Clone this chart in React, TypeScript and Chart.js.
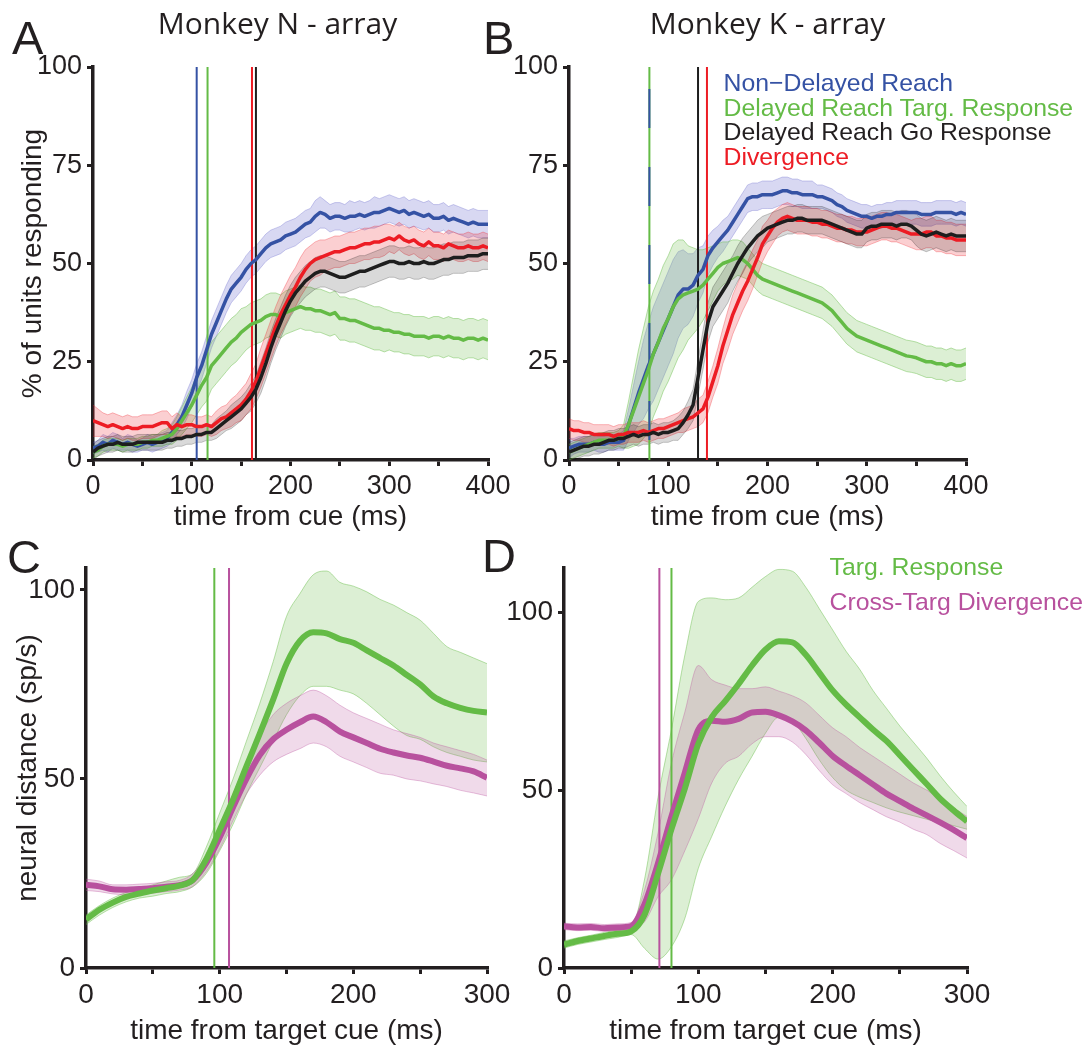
import React, { useEffect, useRef } from "react";
import { Chart, registerables } from "chart.js";

Chart.register(...registerables);

// ---------------- DATA ----------------
// time axis (ms) for panels A and B (5 ms steps)
const TIME_AB = [
  0, 5, 10, 15, 20, 25, 30, 35, 40, 45,
  50, 55, 60, 65, 70, 75, 80, 85, 90, 95,
  100, 105, 110, 115, 120, 125, 130, 135, 140, 145,
  150, 155, 160, 165, 170, 175, 180, 185, 190, 195,
  200, 205, 210, 215, 220, 225, 230, 235, 240, 245,
  250, 255, 260, 265, 270, 275, 280, 285, 290, 295,
  300, 305, 310, 315, 320, 325, 330, 335, 340, 345,
  350, 355, 360, 365, 370, 375, 380, 385, 390, 395,
  400,
];
// time axis (ms) for panels C and D (10 ms steps)
const TIME_CD = [
  0, 10, 20, 30, 40, 50, 60, 70, 80, 90,
  100, 110, 120, 130, 140, 150, 160, 170, 180, 190,
  200, 210, 220, 230, 240, 250, 260, 270, 280, 290,
  300,
];

// Panel A - Monkey N (% of units responding, mean and s.e.m.)
const A_BLUE = [
  3, 3.5, 4.5, 4, 5, 4.5, 4, 4.5, 4, 3.5,
  4, 4.5, 4, 4.5, 5, 5.5, 7, 9, 11, 14,
  17, 21, 24, 28, 32, 35, 38, 41, 43.5, 45,
  46.5, 48.5, 50, 51, 52.5, 54, 55, 55.5, 56, 57,
  57.5, 58, 59, 60, 60.5, 62, 63, 62.5, 61.5, 62,
  62, 61.5, 62, 62, 62.5, 62, 62.5, 63, 63, 63.5,
  64, 63.5, 63, 63.5, 62.5, 63, 62.5, 62, 62.5, 61.5,
  61.5, 62, 61, 61.5, 61, 60.5, 60, 60.5, 60, 60,
  60,
];
const A_BLUE_SEM = [
  1.5, 1.5, 2, 2, 2, 2, 1.5, 2, 2, 1.5,
  1.5, 2, 2, 2, 2, 2, 2.5, 2.5, 3, 3.5,
  3.5, 3.5, 3.5, 3.5, 3.5, 3.5, 3.5, 3.5, 3.5, 3.5,
  3.5, 3.5, 3.5, 3.5, 3.5, 3.5, 3.5, 3.5, 3.5, 3.5,
  3.5, 3.5, 3.5, 3.5, 3.5, 4, 4, 3.5, 3.5, 3.5,
  3.5, 3.5, 4, 3.5, 3.5, 3.5, 3.5, 4, 3.5, 3.5,
  3.5, 3.5, 3.5, 3.5, 3.5, 3.5, 3.5, 3.5, 3.5, 3.5,
  3.5, 3.5, 3.5, 3.5, 3.5, 3.5, 3.5, 3.5, 3.5, 3.5,
  3.5,
];
const A_GREEN = [
  2, 2.5, 3.5, 4, 4, 4, 3.5, 4, 4, 4,
  4.5, 4.5, 5, 5, 5.5, 6, 6.5, 8, 10, 12,
  14, 16.5, 19, 21, 24, 25.5, 27, 28.5, 30, 31,
  32.5, 33.5, 34.5, 35, 35.5, 36.5, 37, 37, 36.5, 37.5,
  38, 38.5, 39, 38.5, 38.5, 38, 38, 37.5, 37, 37.5,
  36, 36, 35.5, 35.5, 35, 34.5, 34, 33.5, 33.5, 33,
  33, 32.5, 32.5, 32, 32, 31.5, 31.5, 31.5, 31, 31.5,
  31.5, 31, 31.5, 31, 31, 30.5, 31, 31, 30.5, 31,
  30.5,
];
const A_GREEN_SEM = [
  1.5, 1.5, 1.5, 1.5, 1.5, 1.5, 1.5, 1.5, 1.5, 1.5,
  1.5, 1.5, 1.5, 1.5, 2, 2, 2.5, 3, 3.5, 4,
  4.5, 5, 5.5, 6, 6, 6, 6, 6, 6, 6,
  6, 5.5, 5.5, 5.5, 5.5, 5.5, 5.5, 5.5, 5.5, 5.5,
  5.5, 5.5, 5.5, 5.5, 5.5, 5.5, 5.5, 5.5, 5.5, 5.5,
  5.5, 5.5, 5.5, 5.5, 5.5, 5.5, 5.5, 5.5, 5.5, 5.5,
  5, 5, 5, 5, 5, 5, 5, 5, 5, 5,
  5, 5, 5, 5, 5, 5, 5, 5, 5, 5,
  5,
];
const A_RED = [
  10, 9.5, 9, 8.5, 9, 8.5, 8, 8.5, 8, 8,
  8.5, 8.5, 8.5, 9, 9.5, 9.5, 8, 9, 8.5, 9,
  9, 8.5, 8.5, 9, 8.5, 9.5, 10.5, 11, 12, 13,
  14, 15.5, 17.5, 20, 23.5, 27, 30.5, 34, 37, 39.5,
  42, 44, 46.5, 48.5, 50, 51, 51.5, 52, 52.5, 53,
  53, 53.5, 54, 54, 54.5, 55, 55, 55.5, 55.5, 56,
  56.5, 56, 57, 56, 55.5, 56, 55, 54.5, 55.5, 54.5,
  54.5, 54, 55, 54.5, 54, 54, 54.5, 54, 54, 54.5,
  54,
];
const A_RED_SEM = [
  4, 3.5, 3, 3, 3, 3, 3, 3, 3, 3,
  3, 3, 3, 3, 3, 3, 3, 3, 2.5, 2.5,
  2.5, 2.5, 2.5, 2.5, 2.5, 3, 3, 3, 3.5, 3.5,
  4, 4, 4.5, 4.5, 5, 5, 5, 5, 5, 5,
  5, 5, 5, 5, 4.5, 4.5, 4.5, 4, 4, 4,
  4, 4, 4, 4, 4, 4, 4, 4, 4, 4,
  3.5, 3.5, 3.5, 3.5, 3.5, 3.5, 3.5, 3.5, 3.5, 3.5,
  3.5, 3.5, 3.5, 3.5, 3.5, 3.5, 3.5, 3.5, 3.5, 3.5,
  3.5,
];
const A_BLACK = [
  2, 3, 3.5, 4, 4, 4.5, 4, 4, 4, 4.5,
  4.5, 4.5, 4.5, 4.5, 4.5, 5, 5, 5.5, 5.5, 6,
  6, 6.5, 6.5, 7, 7, 8, 9, 10, 11, 12,
  13, 14.5, 16, 18, 21, 24.5, 28.5, 32, 35, 38,
  40.5, 42.5, 44, 45.5, 46.5, 47.5, 48, 48, 47.5, 47,
  46.5, 46.5, 47, 47.5, 48, 48, 48.5, 49, 49.5, 50,
  50.5, 50.5, 50, 50, 50.5, 50, 50, 50.5, 50, 50,
  50.5, 51, 51, 51.5, 51.5, 51.5, 52, 52, 52, 52.5,
  52.5,
];
const A_BLACK_SEM = [
  2, 2, 2, 2, 2, 2, 2, 2, 2, 2,
  2, 2, 2, 2, 2, 2, 2, 2, 2, 2,
  2, 2, 2, 2, 2, 2.5, 2.5, 2.5, 3, 3,
  3, 3, 3.5, 3.5, 4, 4, 4, 4, 4, 4,
  4, 4, 4, 4, 4, 4, 4, 4, 4, 4,
  4, 4, 4, 4, 4, 4, 4, 4, 4, 4,
  4, 4, 4, 4, 4, 4, 4, 4, 4, 4,
  4, 4, 4, 4, 4, 4, 4, 4, 4, 4,
  4,
];

// Panel B - Monkey K
const B_BLUE = [
  3, 3.5, 4, 4, 4, 4.5, 4, 4, 4.5, 4.5,
  4.5, 5, 9, 13, 17, 20.5, 24, 27, 30, 33,
  36, 39, 42, 43.5, 43.5, 44.5, 47, 48.5, 52, 54,
  55.5, 57, 58.5, 60.5, 62.5, 64.5, 66.5, 67, 67, 67.5,
  67.5, 67.5, 68, 68.5, 68.5, 68, 68, 67.5, 67.5, 67.5,
  67, 67, 66.5, 66, 65, 64.5, 63.5, 63, 62.5, 62,
  62, 61.5, 62, 62, 62.5, 62.5, 63, 63, 63, 63,
  63, 62.5, 62.5, 62.5, 63, 63, 63, 63, 62.5, 63,
  62.5,
];
const B_BLUE_SEM = [
  2.5, 2, 2, 2, 2, 2, 2, 2, 2, 2,
  2, 2.5, 4, 6, 8, 10, 11, 12, 12, 12,
  12, 12, 11, 10, 9, 8, 7, 6, 5, 4.5,
  4, 4, 3.5, 3.5, 3.5, 3.5, 3.5, 3.5, 3.5, 3.5,
  3.5, 3.5, 3.5, 3.5, 3.5, 3.5, 3.5, 3.5, 3.5, 3.5,
  3, 3, 3, 3, 3, 3, 3, 3, 3, 3,
  3, 3, 3, 3, 3, 3, 3, 3, 3, 3,
  3, 3, 3, 3, 3, 3, 3, 3, 3, 3,
  3,
];
const B_GREEN = [
  2, 2.5, 3, 3.5, 4, 4.5, 5, 5, 5, 5,
  5.5, 6, 9, 12.5, 16, 19.5, 23, 27, 30, 33.5,
  36, 39, 41, 42, 42.5, 43, 43.5, 44.5, 46, 47.5,
  49, 50, 50.5, 51, 51.5, 51, 50, 48.5, 47, 46,
  45.5, 45, 44.5, 44, 43.5, 43, 42.5, 42, 41.5, 41,
  40.5, 40, 39, 38, 36.5, 35, 33.5, 32.5, 31.5, 31,
  30.5, 30, 29.5, 29, 28.5, 28, 27.5, 27, 26.5, 26.3,
  26, 25.5, 25, 25, 24.5, 24.5, 24, 24.5, 24, 24,
  24.5,
];
const B_GREEN_SEM = [
  2, 2, 2, 2, 2, 2, 2, 2, 2, 2,
  2, 3, 6, 9, 12, 14, 16, 16, 16, 16,
  16, 16, 15, 14, 12, 11, 10, 9, 8, 7,
  6, 5.5, 5, 5, 4.5, 4.5, 4, 4, 4, 4,
  4, 4, 4, 4, 4, 4, 4, 4, 4, 4,
  4, 4, 4, 4, 4, 4, 4, 4, 4, 4,
  4, 4, 4, 4, 4, 4, 4, 4, 4, 4,
  4, 4, 4, 4, 4, 4, 4, 4, 4, 4,
  4,
];
const B_BLACK = [
  2, 2.5, 3, 3.5, 3.5, 4, 4, 4.5, 5, 5,
  5.5, 5.5, 6, 6.5, 6, 6.5, 6.5, 7, 6.5, 7,
  7, 7.5, 8, 9.5, 11.5, 14, 21, 28, 35, 39,
  41, 43, 45, 47.5, 50, 52, 54, 55.5, 57, 58,
  59, 59.5, 60, 60.5, 61, 61, 61.5, 61.5, 61, 61,
  61, 61, 60.5, 60, 59.5, 59, 58.5, 58, 57.5, 57.5,
  59, 59.5, 59.5, 60, 60, 60, 59.5, 60, 60, 59.5,
  58.5, 57.5, 57, 57.5, 58, 57.5, 57, 57.5, 57, 57,
  57,
];
const B_BLACK_SEM = [
  2.5, 2.5, 2.5, 2.5, 2.5, 2.5, 2.5, 2.5, 2.5, 2.5,
  2.5, 2.5, 2.5, 2.5, 2.5, 2.5, 2.5, 2.5, 2.5, 2.5,
  2.5, 2.5, 3, 3, 3.5, 4, 4.5, 5, 5, 5,
  5, 5, 5, 4.5, 4.5, 4.5, 4, 4, 4, 4,
  3.5, 3.5, 3.5, 3.5, 3.5, 3.5, 3.5, 3.5, 3.5, 3.5,
  3.5, 3.5, 3.5, 3.5, 3.5, 3.5, 3.5, 3.5, 3.5, 3.5,
  3.5, 3.5, 3.5, 3.5, 3.5, 3.5, 3.5, 3.5, 3.5, 3.5,
  4, 4, 4, 4, 4, 4, 4, 4, 4, 4,
  4,
];
const B_RED = [
  8, 7.5, 7.5, 7, 7, 6.5, 6.5, 6.5, 6.5, 6,
  6.5, 6.5, 7, 7, 7, 7.5, 7, 7.5, 8, 8,
  8.5, 9, 9.5, 10, 10.5, 11, 12, 13, 16, 20,
  24, 29, 33, 37, 40, 43, 45.5, 48.5, 51.5, 55,
  57, 59, 60.5, 61.5, 62, 61.5, 61, 61, 61, 60.5,
  60.5, 60, 60, 59.5, 59, 59, 58.5, 58.5, 58, 58,
  58, 58.5, 59, 59.5, 59.5, 59, 59, 58.5, 58, 57.5,
  57.5, 57.5, 58, 58, 57, 57, 56.5, 56.5, 56, 56,
  56,
];
const B_RED_SEM = [
  2.5, 2.5, 2.5, 2.5, 2.5, 2.5, 2.5, 2.5, 2.5, 2.5,
  2.5, 2.5, 2.5, 2.5, 2.5, 2.5, 2.5, 2.5, 2.5, 2.5,
  2.5, 2.5, 2.5, 3, 3, 3, 3.5, 3.5, 4, 4,
  4.5, 4.5, 5, 5, 5, 5, 5, 5, 4.5, 4.5,
  4, 4, 3.5, 3.5, 3.5, 3.5, 3.5, 3.5, 3.5, 3.5,
  3.5, 3.5, 3.5, 3.5, 3.5, 3.5, 3.5, 3.5, 3.5, 3.5,
  3.5, 3.5, 3.5, 3.5, 3.5, 3.5, 3.5, 3.5, 3.5, 3.5,
  4, 4, 4, 4, 4, 4, 4, 4, 4, 4,
  4,
];

// Panel C - neural distance (sp/s), Monkey N
const C_GREEN = [
  12.8, 15.4, 17.3, 18.8, 19.7, 20.5, 21.1, 21.8, 23.3, 28.8,
  36.5, 44.5, 53.3, 62, 71, 80.5, 86.5, 88.8, 88.5, 87,
  86, 84, 82, 80, 77.5, 75, 71.8, 70, 68.8, 68,
  67.6,
];
const C_GREEN_LO = [
  11.5, 14, 16, 17.5, 18.5, 19, 19.7, 20.2, 21.5, 25,
  31, 38, 46, 53, 60, 67, 72, 74.5, 74.5, 73.5,
  72.5, 70, 67, 64, 61.5, 60.5, 58.5, 57, 56, 55,
  54.5,
];
const C_GREEN_HI = [
  14, 16.5, 18.5, 20, 21, 22, 23, 24, 25, 32,
  41, 50, 60, 70, 81, 93, 99, 104, 105, 102,
  101, 99.5, 97.5, 96, 94, 92, 88.5, 85, 83.5, 82,
  80.5,
];
const C_MAG = [
  22, 21.6, 20.8, 20.7, 20.9, 21.1, 21.5, 21.9, 23.3, 27.8,
  34.5, 42.5, 50, 56.3, 60.5, 63, 65, 66.5, 65, 62.5,
  61, 59.5, 58, 57, 56.2, 55.6, 54.6, 53.5, 52.8, 52,
  50.3,
];
const C_MAG_LO = [
  20.5, 20.2, 19.6, 19.4, 19.6, 19.8, 20.2, 20.6, 21.6, 25.5,
  31.5, 39, 46, 51, 54.5, 56.5, 58, 59.5, 58.5, 56,
  54.5, 53, 51.5, 51, 50, 49.5, 48.7, 48, 47, 46.3,
  45.5,
];
const C_MAG_HI = [
  23.5, 23, 22, 22, 22.2, 22.4, 22.8, 23.2, 25, 30,
  37.5, 46, 54.5, 61.5, 67, 70, 72, 73.5, 72, 69.5,
  67.5, 66, 64.5, 63, 62, 61, 59.5, 58.5, 57.5, 56.5,
  55,
];

// Panel D - neural distance (sp/s), Monkey K
const D_GREEN = [
  6.6, 7.6, 8.3, 9, 9.6, 10.3, 15, 26.5, 39, 50.5,
  63, 70.5, 75, 79.8, 85, 89.5, 91.8, 91.5, 88, 83,
  78, 74, 70.5, 67, 63.8, 59.8, 55.7, 51.7, 47.6, 44.3,
  41.2,
];
const D_GREEN_LO = [
  5.6, 6.6, 7.3, 8, 8.6, 9.4, 5.5, 2.5, 6, 14,
  28, 37, 45.5, 53, 59.5, 66, 70.5, 69.5, 64.5, 58.5,
  53.5, 50, 48, 46.5, 45, 43.8, 42.8, 41.8, 40.8, 40,
  39,
];
const D_GREEN_HI = [
  7.6, 8.5, 9.2, 10, 10.6, 11.2, 25, 48, 67, 88,
  103, 104, 103.5, 104, 107, 110, 112, 111.5, 107, 101,
  95, 89, 84, 78, 73, 68, 63.5, 59, 54, 49.5,
  45.4,
];
const D_MAG = [
  11.7, 11.4, 11.5, 11.2, 11.4, 11.8, 18, 29.5, 42.6, 55,
  67, 69.5, 69.2, 70, 71.8, 72, 71, 69.3, 66.8, 63.3,
  59.6, 56.8, 54.2, 51.6, 49, 46.9, 44.8, 42.9, 40.9, 38.8,
  36.5,
];
const D_MAG_LO = [
  10.8, 10.5, 10.6, 10.3, 10.5, 10.9, 13, 20, 24.8, 33,
  42, 52, 57.5, 59.5, 63, 65, 65, 63.5, 60, 55.5,
  51.5, 49, 46.5, 44.5, 42.5, 41, 39, 37.5, 35, 33,
  30.9,
];
const D_MAG_HI = [
  12.6, 12.4, 12.5, 12.2, 12.4, 12.8, 22, 38, 57.6, 72,
  85, 81, 79.5, 78.5, 78.5, 79, 77.8, 76.5, 74.5, 71,
  67.5, 65, 62, 59.5, 57, 54.5, 52, 50, 47.5, 45,
  42.6,
];

// onset times (ms) marked by vertical lines
const A_ONSETS = [105, 116, 161, 165]; // blue, green, red, black
const B_ONSETS = [81, 81, 130, 139]; // green, blue, black, red
const C_ONSETS = [96, 107]; // green, magenta
const D_ONSETS = [71, 80]; // magenta, green

// tick labels
const AB_Y_TICKS = [0, 25, 50, 75, 100];
const CD_Y_TICKS = [0, 50, 100];
const AB_X_LABELS = [0, 100, 200, 300, 400];
const CD_X_LABELS = [0, 100, 200, 300];

const LEGEND_B = ["Non\u2212Delayed Reach", "Delayed Reach Targ. Response", "Delayed Reach Go Response", "Divergence"];
const LEGEND_D = ["Targ. Response", "Cross-Targ Divergence"];

// ---------------- STYLE ----------------
const FONT = '"Liberation Sans", Arial, Helvetica, sans-serif';
const TITLE_FONT = '"Open Sans", "Noto Sans", sans-serif';
const AXIS = "#231F20";
const COL = {
  blue: "#3552A4",
  green: "#64BB46",
  red: "#ED1C24",
  black: "#1E1E1E",
  mag: "#B8519E",
};
const BAND = {
  blue: ["rgba(60,60,190,0.20)", "rgba(60,60,190,0.24)"],
  green: ["rgba(102,188,70,0.23)", "rgba(102,188,70,0.45)"],
  red: ["rgba(237,28,36,0.21)", "rgba(237,28,36,0.30)"],
  black: ["rgba(0,0,0,0.15)", "rgba(0,0,0,0.22)"],
  mag: ["rgba(185,81,158,0.21)", "rgba(185,81,158,0.35)"],
};

type Pt = { x: number; y: number };
const pts = (t: number[], v: number[]): Pt[] => t.map((x, i) => ({ x, y: v[i] }));
const sub = (a: number[], b: number[]) => a.map((v, i) => v - b[i]);
const add = (a: number[], b: number[]) => a.map((v, i) => v + b[i]);

function bandSets(t: number[], lo: number[], hi: number[], key: keyof typeof BAND, smooth = false) {
  const [fillC, edgeC] = BAND[key];
  const interp = smooth ? { cubicInterpolationMode: "monotone" } : {};
  return [
    { data: pts(t, hi), borderColor: edgeC, borderWidth: 1, backgroundColor: fillC, fill: "+1", order: 3, pointRadius: 0, ...interp },
    { data: pts(t, lo), borderColor: edgeC, borderWidth: 1, backgroundColor: fillC, fill: false, order: 3, pointRadius: 0, ...interp },
  ];
}
function meanSet(t: number[], v: number[], color: string, width: number, smooth = false) {
  const interp = smooth ? { cubicInterpolationMode: "monotone" } : {};
  return { data: pts(t, v), borderColor: color, borderWidth: width, fill: false, order: 0, pointRadius: 0, borderJoinStyle: "round", borderCapStyle: "butt", ...interp };
}
function vline(x: number, ymax: number, color: string, extra: any = {}) {
  return { data: [{ x, y: 0 }, { x, y: ymax }], borderColor: color, borderWidth: 2, fill: false, order: 1, pointRadius: 0, ...extra };
}

type PanelCfg = {
  box: { x: number; y: number; w: number; h: number };
  area: { l: number; t: number; r: number; b: number };
  xMax: number;
  yMax: number;
  yStep: number;
  yTicks: number[];
  xLabels: number[];
  tickSize: number;
  xTitle: string;
  xTitleCenter: number;
  yTitle?: string;
  yTitleCenter?: number;
  datasets: any[];
};

function buildConfig(c: PanelCfg): any {
  const yW = c.area.l - c.box.x;
  const xH = c.box.y + c.box.h - c.area.b;
  const padTop = c.area.t - c.box.y;
  const padRight = c.box.x + c.box.w - c.area.r;
  const titleLH = 28 * 1.2;
  const xTitlePadBottom = c.box.y + c.box.h - titleLH / 2 - c.xTitleCenter;
  const yTitlePadTop = c.yTitleCenter !== undefined ? c.yTitleCenter - c.box.x - titleLH / 2 : 0;
  const grid = { display: true, drawOnChartArea: false, drawTicks: true, tickLength: 6, tickWidth: 3, tickColor: AXIS, lineWidth: 3, color: AXIS };
  const border = { display: true, width: 3.5, color: AXIS };
  return {
    type: "line",
    data: { datasets: c.datasets },
    options: {
      animation: false,
      responsive: false,
      maintainAspectRatio: false,
      devicePixelRatio: 1,
      layout: { padding: { left: 0, top: padTop, right: padRight, bottom: 0 } },
      plugins: { legend: { display: false }, tooltip: { enabled: false }, title: { display: false } },
      elements: { point: { radius: 0 }, line: { tension: 0 } },
      scales: {
        x: {
          type: "linear",
          min: 0,
          max: c.xMax,
          afterFit: (s: any) => { s.height = xH; },
          ticks: {
            stepSize: 50,
            autoSkip: false,
            maxRotation: 0,
            includeBounds: false,
            padding: 4,
            color: AXIS,
            font: { family: FONT, size: c.tickSize },
            callback: (v: number) => (c.xLabels.includes(v) ? String(v) : ""),
          },
          grid,
          border,
          title: {
            display: true,
            text: c.xTitle,
            color: AXIS,
            font: { family: FONT, size: 28 },
            padding: { top: 0, bottom: xTitlePadBottom },
          },
        },
        y: {
          type: "linear",
          min: 0,
          max: c.yMax,
          afterFit: (s: any) => { s.width = yW; },
          ticks: {
            stepSize: c.yStep,
            includeBounds: false,
            padding: 5,
            color: AXIS,
            font: { family: FONT, size: c.tickSize },
            callback: (v: number) => (c.yTicks.includes(v) ? String(v) : ""),
          },
          grid,
          border,
          title: {
            display: !!c.yTitle,
            text: c.yTitle || "",
            color: AXIS,
            font: { family: FONT, size: 28 },
            padding: { top: yTitlePadTop, bottom: 0 },
          },
        },
      },
    },
  };
}

function Panel({ cfg }: { cfg: PanelCfg }) {
  const ref = useRef<HTMLCanvasElement | null>(null);
  useEffect(() => {
    if (!ref.current) return;
    const chart = new Chart(ref.current, buildConfig(cfg));
    return () => chart.destroy();
  }, [cfg]);
  return (
    <canvas
      ref={ref}
      width={cfg.box.w}
      height={cfg.box.h}
      style={{ position: "absolute", left: cfg.box.x, top: cfg.box.y, width: cfg.box.w, height: cfg.box.h }}
    />
  );
}

// ---------------- PANELS ----------------
const LW_AB = 3.5;
const LW_CD = 6;

const panelA: PanelCfg = {
  box: { x: 0, y: 40, w: 530, h: 500 },
  area: { l: 93, t: 67, r: 488, b: 460 },
  xMax: 400, yMax: 100, yStep: 25, yTicks: AB_Y_TICKS, xLabels: AB_X_LABELS, tickSize: 27,
  xTitle: "time from cue (ms)", xTitleCenter: 517,
  yTitle: "% of units responding", yTitleCenter: 33,
  datasets: [
    meanSet(TIME_AB, A_BLACK, COL.black, LW_AB),
    meanSet(TIME_AB, A_RED, COL.red, LW_AB),
    meanSet(TIME_AB, A_GREEN, COL.green, LW_AB),
    meanSet(TIME_AB, A_BLUE, COL.blue, LW_AB),
    vline(A_ONSETS[0], 100, COL.blue),
    vline(A_ONSETS[1], 100, COL.green),
    vline(A_ONSETS[2], 100, COL.red),
    vline(A_ONSETS[3], 100, COL.black),
    ...bandSets(TIME_AB, sub(A_BLACK, A_BLACK_SEM), add(A_BLACK, A_BLACK_SEM), "black"),
    ...bandSets(TIME_AB, sub(A_RED, A_RED_SEM), add(A_RED, A_RED_SEM), "red"),
    ...bandSets(TIME_AB, sub(A_GREEN, A_GREEN_SEM), add(A_GREEN, A_GREEN_SEM), "green"),
    ...bandSets(TIME_AB, sub(A_BLUE, A_BLUE_SEM), add(A_BLUE, A_BLUE_SEM), "blue"),
  ],
};

const panelB: PanelCfg = {
  box: { x: 500, y: 40, w: 504, h: 500 },
  area: { l: 569, t: 67, r: 966, b: 460 },
  xMax: 400, yMax: 100, yStep: 25, yTicks: AB_Y_TICKS, xLabels: AB_X_LABELS, tickSize: 27,
  xTitle: "time from cue (ms)", xTitleCenter: 517,
  datasets: [
    meanSet(TIME_AB, B_BLACK, COL.black, LW_AB),
    meanSet(TIME_AB, B_RED, COL.red, LW_AB),
    meanSet(TIME_AB, B_GREEN, COL.green, LW_AB),
    meanSet(TIME_AB, B_BLUE, COL.blue, LW_AB),
    vline(B_ONSETS[1], 100, COL.blue, { borderDash: [39, 39], borderDashOffset: 58 }),
    vline(B_ONSETS[0], 100, COL.green),
    vline(B_ONSETS[2], 100, COL.black),
    vline(B_ONSETS[3], 100, COL.red),
    ...bandSets(TIME_AB, sub(B_BLACK, B_BLACK_SEM), add(B_BLACK, B_BLACK_SEM), "black"),
    ...bandSets(TIME_AB, sub(B_RED, B_RED_SEM), add(B_RED, B_RED_SEM), "red"),
    ...bandSets(TIME_AB, sub(B_GREEN, B_GREEN_SEM), add(B_GREEN, B_GREEN_SEM), "green"),
    ...bandSets(TIME_AB, sub(B_BLUE, B_BLUE_SEM), add(B_BLUE, B_BLUE_SEM), "blue"),
  ],
};

const panelC: PanelCfg = {
  box: { x: 0, y: 530, w: 530, h: 518 },
  area: { l: 86, t: 568, r: 487, b: 968 },
  xMax: 300, yMax: 105.8, yStep: 50, yTicks: CD_Y_TICKS, xLabels: CD_X_LABELS, tickSize: 28,
  xTitle: "time from target cue (ms)", xTitleCenter: 1031,
  yTitle: "neural distance (sp/s)", yTitleCenter: 28.5,
  datasets: [
    meanSet(TIME_CD, C_GREEN, COL.green, LW_CD, true),
    meanSet(TIME_CD, C_MAG, COL.mag, LW_CD, true),
    vline(C_ONSETS[0], 105.8, COL.green),
    vline(C_ONSETS[1], 105.8, COL.mag),
    ...bandSets(TIME_CD, C_MAG_LO, C_MAG_HI, "mag", true),
    ...bandSets(TIME_CD, C_GREEN_LO, C_GREEN_HI, "green", true),
  ],
};

const panelD: PanelCfg = {
  box: { x: 500, y: 530, w: 504, h: 518 },
  area: { l: 564, t: 568, r: 967, b: 968 },
  xMax: 300, yMax: 112.4, yStep: 50, yTicks: CD_Y_TICKS, xLabels: CD_X_LABELS, tickSize: 28,
  xTitle: "time from target cue (ms)", xTitleCenter: 1031,
  datasets: [
    meanSet(TIME_CD, D_GREEN, COL.green, LW_CD, true),
    meanSet(TIME_CD, D_MAG, COL.mag, LW_CD, true),
    vline(D_ONSETS[0], 112.4, COL.mag),
    vline(D_ONSETS[1], 112.4, COL.green),
    ...bandSets(TIME_CD, D_MAG_LO, D_MAG_HI, "mag", true),
    ...bandSets(TIME_CD, D_GREEN_LO, D_GREEN_HI, "green", true),
  ],
};

const abs = (left: number, top: number, extra: React.CSSProperties = {}): React.CSSProperties => ({
  position: "absolute",
  left,
  top,
  whiteSpace: "nowrap",
  lineHeight: 1,
  margin: 0,
  ...extra,
});

export default function App() {
  const letter = { fontFamily: FONT, fontSize: 47, color: AXIS };
  const title = { fontFamily: TITLE_FONT, fontSize: 30, color: AXIS, width: 400, textAlign: "center" as const };
  const legendColsB = [COL.blue, COL.green, AXIS, COL.red];
  const legendColsD = [COL.green, COL.mag];
  return (
    <div style={{ position: "absolute", left: 0, top: 0, width: 1084, height: 1048, background: "#fff", overflow: "hidden" }}>
      <Panel cfg={panelA} />
      <Panel cfg={panelB} />
      <Panel cfg={panelC} />
      <Panel cfg={panelD} />
      <div style={abs(12, 14, letter)}>A</div>
      <div style={abs(483, 14, letter)}>B</div>
      <div style={abs(7, 533, letter)}>C</div>
      <div style={abs(482, 532, letter)}>D</div>
      <div style={abs(77.5, 8, title)}>Monkey N - array</div>
      <div style={abs(567.5, 8, title)}>Monkey K - array</div>
      <div style={abs(723.5, 71.3, { fontFamily: FONT, fontSize: 24.8, lineHeight: "24.6px" })}>
        {LEGEND_B.map((t, i) => (
          <div key={t} style={{ color: legendColsB[i] }}>{t}</div>
        ))}
      </div>
      <div style={abs(829.5, 549.4, { fontFamily: FONT, fontSize: 24.8, lineHeight: "35px" })}>
        {LEGEND_D.map((t, i) => (
          <div key={t} style={{ color: legendColsD[i] }}>{t}</div>
        ))}
      </div>
    </div>
  );
}
